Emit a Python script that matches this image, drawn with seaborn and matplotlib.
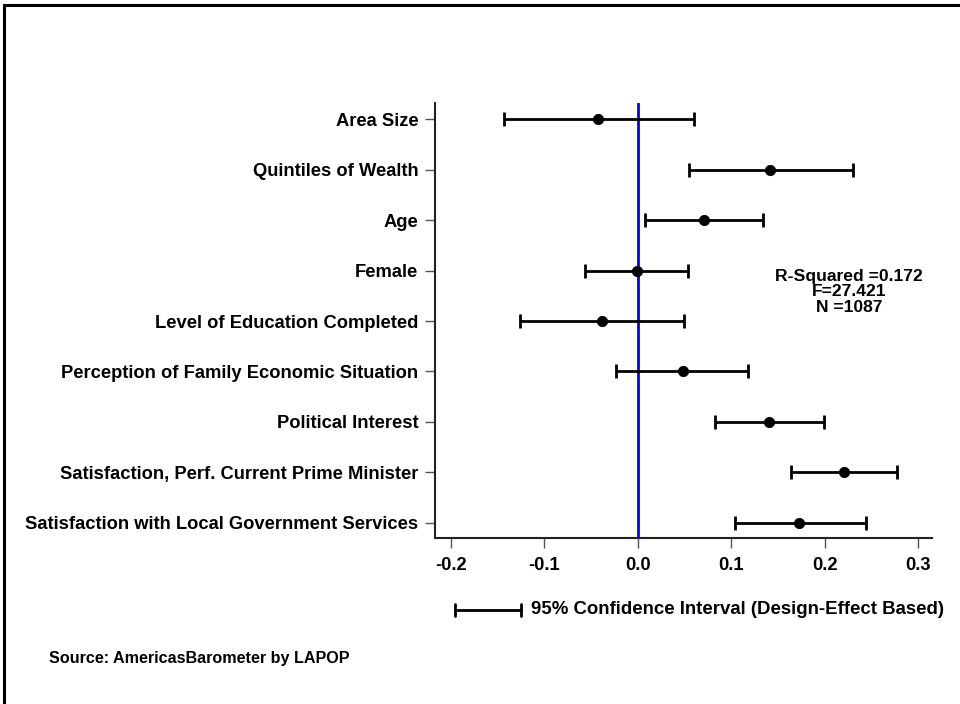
import matplotlib
matplotlib.use("Agg")
import matplotlib.pyplot as plt
import seaborn as sns
import pandas as pd
import numpy as np
from matplotlib.patches import Rectangle
from matplotlib.lines import Line2D

categories = ["Area Size", "Quintiles of Wealth", "Age", "Female",
              "Level of Education Completed",
              "Perception of Family Economic Situation",
              "Political Interest",
              "Satisfaction, Perf. Current Prime Minister",
              "Satisfaction with Local Government Services"]
coef = [-0.042, 0.142, 0.071, -0.001, -0.038, 0.048, 0.141, 0.221, 0.173]
ci_low = [-0.143, 0.055, 0.008, -0.056, -0.126, -0.023, 0.083, 0.164, 0.104]
ci_high = [0.060, 0.230, 0.134, 0.054, 0.050, 0.118, 0.199, 0.278, 0.244]
xticks = [-0.2, -0.1, 0.0, 0.1, 0.2, 0.3]
stats_lines = ["R-Squared =0.172", "F=27.421", "N =1087"]

sns.set_theme(style="white")
plt.rcParams['font.family'] = ['Liberation Sans', 'DejaVu Sans']
plt.rcParams['font.weight'] = 'bold'
plt.rcParams['text.color'] = 'black'
plt.rcParams['xtick.color'] = 'black'
plt.rcParams['ytick.color'] = 'black'

FS = 13.2

df = pd.DataFrame({"var": categories, "coef": coef, "lo": ci_low, "hi": ci_high})
df["pos"] = np.arange(len(df))

fig = plt.figure(figsize=(9.6, 7.04), dpi=100)
ax = fig.add_axes([435/960, 1-538/704, (932-435)/960, (538-103)/704])

ax.axvline(0, color="#0000ff", lw=2, zorder=1)
ax.errorbar(df["coef"], df["pos"],
            xerr=[df["coef"] - df["lo"], df["hi"] - df["coef"]],
            fmt="none", ecolor="black", elinewidth=2, capsize=5, capthick=2, zorder=2)
sns.scatterplot(data=df, x="coef", y="pos", color="black", s=55, edgecolor="black",
                ax=ax, zorder=3, legend=False)

ax.set_xlim(-0.217, 0.315)
ax.set_ylim(8.3, -0.32)
ax.set_yticks(df["pos"])
ax.set_yticklabels(categories)
ax.set_xticks(xticks)
ax.set_xticklabels([f"{t:.1f}" for t in xticks])
ax.set_xlabel("")
ax.set_ylabel("")
for s in ["top", "right"]:
    ax.spines[s].set_visible(False)
for s in ["left", "bottom"]:
    ax.spines[s].set_color("#222222")
    ax.spines[s].set_linewidth(1.5)
ax.tick_params(axis="both", which="both", length=7, width=1, color="#555555",
               labelsize=FS, direction="out", left=True, bottom=True, labelcolor="black")
ax.tick_params(axis="y", pad=5)
ax.tick_params(axis="x", pad=7)
for lab in ax.get_xticklabels() + ax.get_yticklabels():
    lab.set_fontweight("bold")

for i, line in enumerate(stats_lines):
    ax.text(0.226, 3.11 + i * 0.315, line, ha="center", va="center", fontsize=12.6,
            fontweight="bold", color="black")

# legend-like CI key
fig.add_artist(Line2D([455/960, 521/960], [1-610/704, 1-610/704], color="black", lw=2,
                      transform=fig.transFigure))
for xe in [455, 521]:
    fig.add_artist(Line2D([xe/960, xe/960], [1-604/704, 1-616/704], color="black", lw=2,
                          transform=fig.transFigure))
fig.text(531/960, 1-610/704, "95% Confidence Interval (Design-Effect Based)",
         ha="left", va="center", fontsize=13.4, fontweight="bold", color="black")
fig.text(49/960, 1-658/704, "Source: AmericasBarometer by LAPOP",
         ha="left", va="center", fontsize=11.6, fontweight="bold", color="black")

fig.add_artist(Rectangle((4/960, -0.1), 1.2, 1 - 5/704 + 0.1, transform=fig.transFigure,
                         fill=False, edgecolor="black", lw=2.2))

fig.savefig("out.png", dpi=100)
